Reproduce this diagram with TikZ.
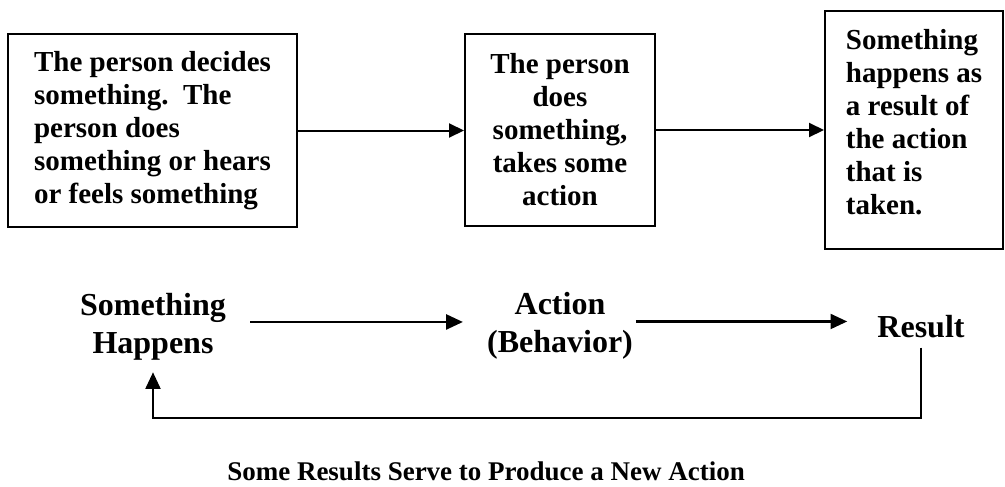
\documentclass[tikz,border=0pt]{standalone}
\usepackage{fontspec}
\setmainfont{Liberation Serif}
\usetikzlibrary{arrows.meta}
\begin{document}
\begin{tikzpicture}[x=0.75pt,y=-0.75pt,
  boxtext/.style={draw,line width=1.5pt,inner sep=0pt,align=left,
    font=\bfseries\fontsize{21.75pt}{24.75pt}\selectfont},
  flowlabel/.style={inner sep=0pt,align=center,
    font=\bfseries\fontsize{24pt}{28.5pt}\selectfont},
  arr/.style={line width=1.5pt,-{Triangle[length=11.25pt,width=10.5pt]}},
  bigarr/.style={line width=1.6pt,-{Triangle[length=12.5pt,width=11.25pt]}},
]
\useasboundingbox (0,0) rectangle (1005,486);

% upper row: three boxes
\node[boxtext,minimum width=216.75pt,minimum height=144.75pt] (b1) at (152.5,130.5)
  {The person decides\\something.\ \ The\\person does\\something or hears\\or feels something};
\node[boxtext,align=center,minimum width=142.5pt,minimum height=144pt] (b2) at (560,130)
  {The person\\does\\something,\\takes some\\action};
\node[boxtext,minimum width=133.5pt,minimum height=178.5pt] (b3) at (914,130)
  {Something\\happens as\\a result of\\the action\\that is\\taken.\rule[-12pt]{0pt}{0pt}};

\draw[arr] (b1.east) -- (b1.east -| b2.west);
\draw[arr] (b2.east) -- (b2.east -| b3.west);

% lower row: the cycle
\node[flowlabel] (sh) at (153,326.5) {Something\\Happens};
\node[flowlabel] (act) at (560,326) {Action\\(Behavior)};
\node[flowlabel] (res) at (921,327) {Result};
\coordinate (loop) at (0,418);

\draw[bigarr,shorten <=18pt,shorten >=18pt]
  ([yshift=3.4pt]sh.east) -- ([yshift=3.4pt]sh.east -| act.west);
\draw[bigarr,shorten <=2pt,shorten >=22.5pt]
  ([yshift=3.4pt]act.east) -- ([yshift=3.4pt]act.east -| res.west);
\draw[bigarr,shorten <=6.75pt,shorten >=9pt]
  (res.south) -- (res.south |- loop) -| (sh.south);

\node[anchor=base west,inner sep=0pt,font=\bfseries\fontsize{20.25pt}{24pt}\selectfont]
  (title) at (227,480) {Some Results Serve to Produce a New Action};
\end{tikzpicture}
\end{document}
